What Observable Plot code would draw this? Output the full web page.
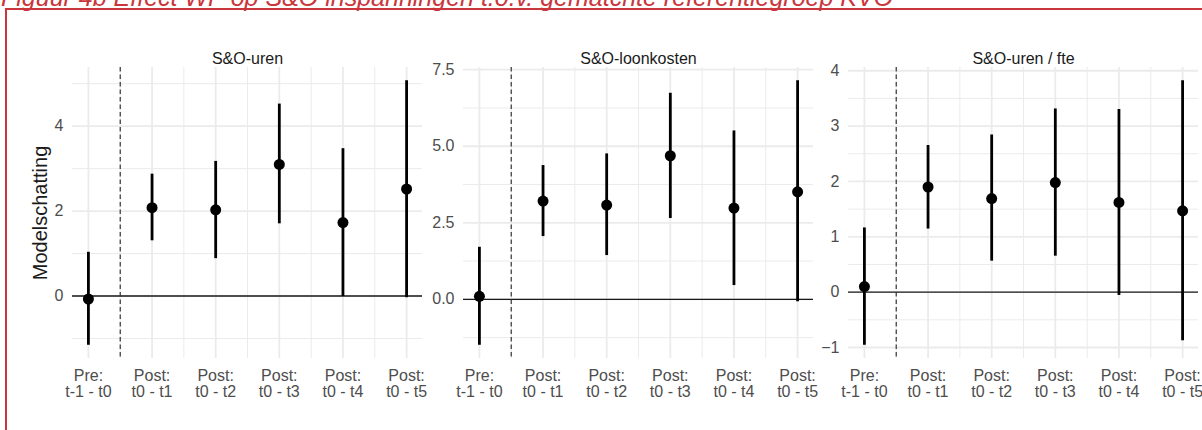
<!DOCTYPE html>
<html>
<head>
<meta charset="utf-8">
<script src="https://cdn.jsdelivr.net/npm/d3@7"></script>
<script src="https://cdn.jsdelivr.net/npm/@observablehq/plot@0.6"></script>
<style>
  html, body { margin: 0; padding: 0; background: #fff; }
  body { width: 1202px; height: 430px; overflow: hidden; position: relative; font-family: "Liberation Sans", Arial, sans-serif; }
  #frame { position: absolute; left: 5px; top: 8px; width: 1197px; height: 422px; border-top: 2px solid #c9363c; border-left: 2px solid #c9363c; box-sizing: border-box; }
  #title { position: absolute; left: 1px; top: -15px; font-style: italic; font-size: 25px; line-height: 25px; color: #c9363c; white-space: nowrap; }
  .panel { position: absolute; top: 0; }
  .panel svg { overflow: visible; }
</style>
</head>
<body>
<div id="frame"></div>
<div id="title">Figuur 4b Effect WP op S&amp;O inspanningen t.o.v. gematchte referentiegroep KVO</div>
<div id="p1" class="panel" style="left:0px"></div>
<div id="p2" class="panel" style="left:422px"></div>
<div id="p3" class="panel" style="left:813px"></div>
<script>
// ---- data ----
const periods = ["Pre:\nt-1 - t0", "Post:\nt0 - t1", "Post:\nt0 - t2", "Post:\nt0 - t3", "Post:\nt0 - t4", "Post:\nt0 - t5"];
const positions = [1, 2, 3, 4, 5, 6];
const xMinor = [1.5, 2.5, 3.5, 4.5, 5.5];
const breakAt = 1.5;
const panelTitles = ["S&O-uren", "S&O-loonkosten", "S&O-uren / fte"];
const yTitle = "Modelschatting";

const urenEst  = [-0.07, 2.08, 2.03, 3.10, 1.73, 2.52];
const urenLow  = [-1.16, 1.30, 0.88, 1.70, -0.01, -0.04];
const urenHigh = [1.03, 2.87, 3.17, 4.52, 3.47, 5.07];

const loonEst  = [0.10, 3.21, 3.08, 4.69, 2.98, 3.51];
const loonLow  = [-1.50, 2.05, 1.43, 2.64, 0.45, -0.08];
const loonHigh = [1.70, 4.37, 4.75, 6.73, 5.50, 7.14];

const fteEst   = [0.10, 1.90, 1.69, 1.98, 1.62, 1.47];
const fteLow   = [-0.96, 1.14, 0.56, 0.65, -0.06, -0.88];
const fteHigh  = [1.16, 2.65, 2.84, 3.31, 3.30, 3.82];

const yMajor1 = [0, 2, 4];             const yMinor1 = [-1, 1, 3, 5];
const yMajor2 = [0, 2.5, 5, 7.5];      const yMinor2 = [-1.25, 1.25, 3.75, 6.25];
const yMajor3 = [-1, 0, 1, 2, 3, 4];   const yMinor3 = [-0.5, 0.5, 1.5, 2.5, 3.5];

// ---- drawing ----
const FONT = "Liberation Sans, Arial, sans-serif";
const GRID = "#ebebeb";

function panel(id, ml, title, est, low, high, major, minor, fmt, withYTitle) {
  const data = positions.map((x, i) => ({x, est: est[i], low: low[i], high: high[i]}));
  const lo = d3.min(low), hi = d3.max(high), pad = (hi - lo) * 0.05;
  const marks = [
    Plot.gridX(xMinor, {stroke: GRID, strokeOpacity: 1, strokeWidth: 1}),
    Plot.gridX(positions, {stroke: GRID, strokeOpacity: 1, strokeWidth: 1.8}),
    Plot.gridY(minor, {stroke: GRID, strokeOpacity: 1, strokeWidth: 1}),
    Plot.gridY(major, {stroke: GRID, strokeOpacity: 1, strokeWidth: 1.8}),
    Plot.axisX(positions, {tickFormat: d => periods[d - 1], tickSize: 0, tickPadding: 11, fontSize: 16, label: null, lineHeight: 1}),
    Plot.axisY(major, {tickFormat: fmt, tickSize: 0, tickPadding: 9, fontSize: 16, label: null}),
    Plot.ruleY([0], {stroke: "#1a1a1a", strokeWidth: 1.3}),
    Plot.ruleX([breakAt], {stroke: "#333", strokeWidth: 1.2, strokeDasharray: "4.5,3"}),
    Plot.ruleX(data, {x: "x", y1: "low", y2: "high", stroke: "#000", strokeWidth: 2.8}),
    Plot.dot(data, {x: "x", y: "est", r: 5.5, fill: "#000", stroke: "none"}),
    Plot.text([title], {frameAnchor: "top", dy: -15, fontSize: 16, fill: "#1a1a1a"})
  ];
  if (withYTitle) marks.push(Plot.text([yTitle], {frameAnchor: "left", textAnchor: "middle", lineAnchor: "middle", dx: -32, rotate: -90, fontSize: 20, fill: "#1a1a1a"}));
  const svg = Plot.plot({
    width: ml + 350,
    height: 430,
    marginLeft: ml,
    marginRight: 0,
    marginTop: 67,
    marginBottom: 72,
    style: {fontFamily: FONT, fontSize: "16px", color: "#4d4d4d", background: "transparent", overflow: "visible"},
    x: {domain: [0.75, 6.25]},
    y: {domain: [lo - pad, hi + pad]},
    marks
  });
  document.getElementById(id).appendChild(svg);
}

panel("p1", 72, panelTitles[0], urenEst, urenLow, urenHigh, yMajor1, yMinor1, d3.format("d"), true);
panel("p2", 41, panelTitles[1], loonEst, loonLow, loonHigh, yMajor2, yMinor2, d3.format(".1f"), false);
panel("p3", 35, panelTitles[2], fteEst, fteLow, fteHigh, yMajor3, yMinor3, d3.format("d"), false);
</script>
</body>
</html>
